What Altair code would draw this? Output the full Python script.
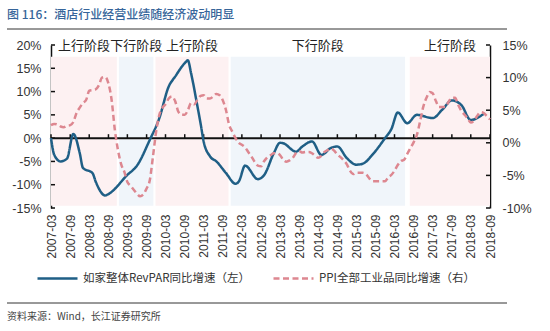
import altair as alt
import pandas as pd

TITLE = "图 116：酒店行业经营业绩随经济波动明显"
SOURCE = "资料来源：Wind，长江证券研究所"
REV_NAME = "如家整体RevPAR同比增速（左）"
PPI_NAME = "PPI全部工业品同比增速（右）"

# RevPAR yoy (left axis, %)
rev_dates = ["2007-03-01", "2007-04-01", "2007-06-01", "2007-08-01", "2007-10-01", "2007-12-01",
             "2008-01-01", "2008-04-01", "2008-05-01", "2008-08-01", "2008-09-01", "2009-03-01",
             "2009-06-01", "2009-10-01", "2010-01-01", "2010-04-01", "2010-06-01", "2010-09-01",
             "2010-10-01", "2010-11-01", "2011-01-01", "2011-02-01", "2011-03-01", "2011-05-01",
             "2011-07-01", "2011-10-01", "2012-01-01", "2012-02-01", "2012-04-01", "2012-08-01",
             "2012-10-01", "2013-01-01", "2013-03-01", "2013-04-01", "2013-08-01", "2013-10-01",
             "2014-01-01", "2014-04-01", "2014-07-01", "2014-09-01", "2014-12-01", "2015-03-01",
             "2015-05-01", "2015-08-01", "2015-12-01", "2016-02-01", "2016-04-01", "2016-07-01",
             "2016-10-01", "2017-03-01", "2017-06-01", "2017-09-01", "2017-12-01", "2018-03-01",
             "2018-07-01"]
rev_values = [0.0, -3.6, -5.0, -4.4, 0.9, -3.2,
              -6.4, -7.5, -9.3, -12.3, -12.0, -7.9,
              -5.9, -0.4, 4.3, 11.1, 13.2, 16.1,
              16.7, 13.9, 6.8, 3.0, -0.7, -3.9,
              -5.0, -7.5, -9.8, -9.3, -5.9, -8.8,
              -7.9, -3.2, -1.0, -1.1, -2.9, -1.8,
              -0.7, -3.6, -2.1, -1.8, -4.3, -5.7,
              -5.5, -3.6, 0.0, 2.0, 5.5, 3.2,
              5.0, 4.3, 6.1, 8.1, 7.1, 3.9,
              5.2]

# PPI yoy (right axis, %), monthly 2007-03 .. 2018-09
ppi_values = [2.7, 2.9, 2.8, 2.5, 2.4, 2.6, 2.7, 3.2, 4.6, 5.4,
              6.1, 6.6, 8.0, 8.1, 8.2, 8.8, 10.0, 10.1, 9.1, 6.6, 2.0, -1.1,
              -3.3, -4.5, -6.0, -6.6, -7.2, -7.8, -8.2, -7.9, -7.0, -5.8, -2.1, 1.7,
              4.3, 5.4, 5.9, 6.8, 7.1, 6.4, 4.8, 4.3, 4.3, 5.0, 6.1, 5.9,
              6.6, 7.2, 7.3, 6.8, 6.8, 7.1, 7.5, 7.3, 6.5, 5.0, 2.7, 1.7,
              0.7, 0.0, -0.3, -0.7, -1.4, -2.1, -2.9, -3.5, -3.6, -2.8, -2.2, -1.9,
              -1.6, -1.6, -1.9, -2.6, -2.9, -2.7, -2.3, -1.6, -1.3, -1.5, -1.4, -1.4,
              -1.6, -2.0, -2.3, -2.0, -1.4, -1.1, -0.9, -1.2, -1.8, -2.2, -2.7, -3.3,
              -4.3, -4.8, -4.6, -4.6, -4.6, -4.8, -5.4, -5.9, -5.9, -5.9, -5.9, -5.9,
              -5.3, -4.9, -4.3, -3.4, -2.8, -2.6, -1.7, -0.8, 0.1, 1.2, 3.3, 5.5,
              6.9, 7.8, 7.6, 6.4, 5.5, 5.5, 5.5, 6.3, 6.9, 6.9, 5.8, 4.9,
              4.3, 3.7, 3.1, 3.4, 4.1, 4.7, 4.6, 4.1, 3.6]
ppi_dates = [d.strftime("%Y-%m-%d") for d in pd.date_range("2007-03-01", periods=len(ppi_values), freq="MS")]

# cycle phases
band_starts = ["2007-03-01", "2008-12-10", "2009-11-25", "2011-11-15", "2016-07-25"]
band_ends = ["2008-11-20", "2009-11-05", "2011-10-25", "2016-06-10", "2018-09-01"]
band_kinds = ["up", "down", "up", "down", "up"]
band_labels = ["上行阶段", "下行阶段", "上行阶段", "下行阶段", "上行阶段"]

x_tick_labels = ["2007-03", "2007-09", "2008-03", "2008-09", "2009-03", "2009-09", "2010-03",
                 "2010-09", "2011-03", "2011-09", "2012-03", "2012-09", "2013-03", "2013-09",
                 "2014-03", "2014-09", "2015-03", "2015-09", "2016-03", "2016-09", "2017-03",
                 "2017-09", "2018-03", "2018-09"]
left_ticks = [-15, -10, -5, 0, 5, 10, 15, 20]
right_ticks = [-10, -5, 0, 5, 10, 15]

FONT = "Liberation Sans"
CJK = "Noto Sans CJK SC"
BLUE = "#1f5f86"
PINK = "#dd8790"
PINK_BAND = "#fdf1f2"
BLUE_BAND = "#f0f5fa"
AXIS_C = "#111111"


def dt(s):
    y, m = s.split("-")[:2]
    return alt.DateTime(year=int(y), month=int(m), date=1, utc=True)


rev_df = pd.DataFrame({"date": rev_dates, "value": rev_values, "series": REV_NAME})
ppi_df = pd.DataFrame({"date": ppi_dates, "value": ppi_values, "series": PPI_NAME})
s = pd.to_datetime(pd.Series(band_starts))
e = pd.to_datetime(pd.Series(band_ends))
band_df = pd.DataFrame({
    "start": band_starts, "end": band_ends, "kind": band_kinds, "label": band_labels,
    "mid": (s + (e - s) / 2).dt.strftime("%Y-%m-%d"),
})
xtick_df = pd.DataFrame({"date": [t + "-01" for t in x_tick_labels]})
lt_df = pd.DataFrame({"v": left_ticks})
rt_df = pd.DataFrame({"v": right_ticks})
deco = pd.DataFrame({"t": [0]})

xs = alt.Scale(type="utc", domain=[dt("2007-03"), dt("2018-09")])
yl = alt.Scale(domain=[-15, 20], nice=False, zero=False)
yr = alt.Scale(domain=[-10, 15], nice=False, zero=False)

x_axis = alt.Axis(values=[dt(t) for t in x_tick_labels], format="%Y-%m", labelAngle=270,
                  domain=False, ticks=False, grid=False, labelFont=FONT, labelFontSize=12,
                  labelColor="#333333", labelPadding=6, labelFlush=False, labelOverlap=False,
                  title=None)
yl_axis = alt.Axis(orient="left", values=left_ticks, labelExpr="datum.value + '%'",
                   domain=True, domainColor=AXIS_C, domainWidth=1.5, ticks=False, grid=False,
                   labelFont=FONT, labelFontSize=12.5, labelColor="#333333", labelPadding=10,
                   labelFlush=False, labelOverlap=False, title=None)
yr_axis = alt.Axis(orient="right", values=right_ticks, labelExpr="datum.value + '%'",
                   domain=True, domainColor=AXIS_C, domainWidth=1.5, ticks=False, grid=False,
                   labelFont=FONT, labelFontSize=12.5, labelColor="#333333", labelPadding=12,
                   labelFlush=False, labelOverlap=False, title=None)

series_domain = [REV_NAME, PPI_NAME]
leg = alt.Legend(title=None, orient="none", legendX=-15, legendY=212, direction="horizontal",
                 symbolType="stroke", symbolSize=1600, symbolStrokeWidth=2.5,
                 labelFont=CJK, labelFontSize=11.5, labelColor="#333333", labelLimit=400,
                 columnPadding=17, labelOffset=4, padding=0)
color_enc = alt.Color("series:N", scale=alt.Scale(domain=series_domain, range=[BLUE, PINK]), legend=leg)
dash_enc = alt.StrokeDash("series:N", scale=alt.Scale(domain=series_domain, range=[[1, 0], [6, 3.5]]), legend=leg)

bands = alt.Chart(band_df).mark_rect().encode(
    x=alt.X("start:T", scale=xs, axis=x_axis),
    x2="end:T",
    y=alt.YDatum(17.5, type="quantitative", scale=yl, axis=yl_axis),
    y2=alt.Y2Datum(-14.5),
    fill=alt.condition("datum.kind == 'up'", alt.value(PINK_BAND), alt.value(BLUE_BAND)),
)

zero = alt.Chart(deco).mark_rule(color=AXIS_C, strokeWidth=2).encode(
    y=alt.YDatum(0, type="quantitative", scale=yl, axis=yl_axis),
)

xticks = alt.Chart(xtick_df).mark_rule(color=AXIS_C, strokeWidth=1.5).encode(
    x=alt.X("date:T", scale=xs, axis=x_axis),
    y=alt.YDatum(0, type="quantitative", scale=yl, axis=yl_axis),
    y2=alt.Y2Datum(0.85),
)

lticks = alt.Chart(lt_df).mark_rule(color=AXIS_C, strokeWidth=1.5).encode(
    y=alt.Y("v:Q", scale=yl, axis=yl_axis),
    x=alt.value(0), x2=alt.value(4),
)

rev_line = alt.Chart(rev_df).mark_line(interpolate="monotone", strokeWidth=2.5).encode(
    x=alt.X("date:T", scale=xs, axis=x_axis),
    y=alt.Y("value:Q", scale=yl, axis=yl_axis),
    color=color_enc,
    strokeDash=dash_enc,
)

phase_text = alt.Chart(band_df).mark_text(font=CJK, fontSize=13, color="#222222", baseline="middle").encode(
    x=alt.X("mid:T", scale=xs, axis=x_axis),
    y=alt.YDatum(19.7, type="quantitative", scale=yl, axis=yl_axis),
    text="label:N",
)

title_text = alt.Chart(deco).mark_text(text=TITLE, font=CJK, fontSize=12, color="#36659a",
                                       fontWeight=500, align="left", baseline="middle").encode(
    x=alt.value(-44), y=alt.value(-30))
top_rule = alt.Chart(deco).mark_rule(color="#333333", strokeWidth=1).encode(
    x=alt.value(-44), x2=alt.value(456), y=alt.value(-16))
bottom_rule = alt.Chart(deco).mark_rule(color="#333333", strokeWidth=1).encode(
    x=alt.value(-44), x2=alt.value(456), y=alt.value(258))
source_text = alt.Chart(deco).mark_text(text=SOURCE, font=CJK, fontSize=10, color="#444444",
                                        align="left", baseline="middle").encode(
    x=alt.value(-44), y=alt.value(272))

left_group = alt.layer(bands, zero, xticks, lticks, rev_line, phase_text,
                       title_text, top_rule, bottom_rule, source_text)

ppi_line = alt.Chart(ppi_df).mark_line(interpolate="monotone", strokeWidth=2.5).encode(
    x=alt.X("date:T", scale=xs, axis=x_axis),
    y=alt.Y("value:Q", scale=yr, axis=yr_axis),
    color=color_enc,
    strokeDash=dash_enc,
)
rticks = alt.Chart(rt_df).mark_rule(color=AXIS_C, strokeWidth=1.5).encode(
    y=alt.Y("v:Q", scale=yr, axis=yr_axis),
    x=alt.value(435), x2=alt.value(439),
)
right_group = alt.layer(ppi_line, rticks)

chart = alt.layer(left_group, right_group).resolve_scale(y="independent").properties(
    width=439, height=163,
    padding={"left": 51, "top": 45, "right": 60, "bottom": 123},
    autosize=alt.AutoSizeParams(type="none"),
    background="white",
).configure_view(stroke=None)

chart.save("out.html", embed_options={"renderer": "svg", "actions": False})
